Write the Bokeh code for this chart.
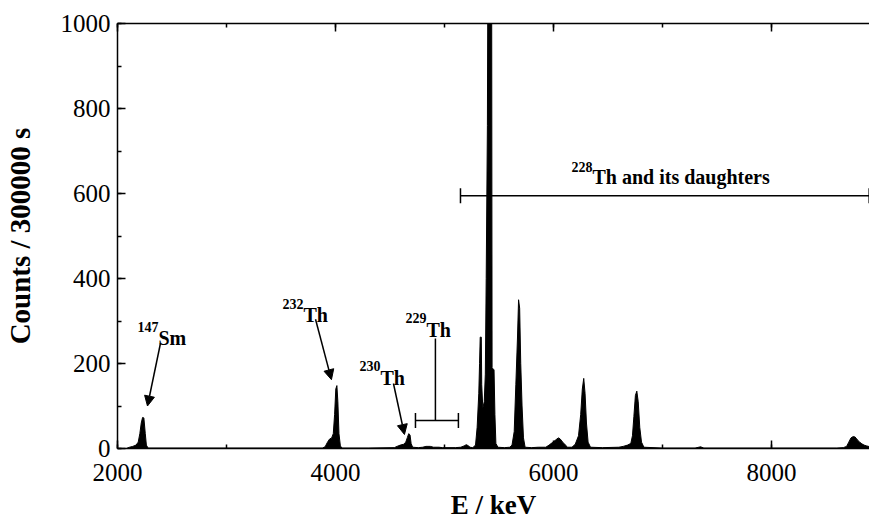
from bokeh.plotting import figure
from bokeh.models import (Range1d, LinearAxis, SingleIntervalTicker, Arrow,
                          NormalHead, TeeHead, Label, CustomJSTickFormatter,
                          ColumnDataSource)
from bokeh.embed import file_html
from bokeh.resources import INLINE

# ---------------- data ----------------
# alpha spectrum: energy (keV) and counts per 300000 s, region by region
sm147_E = [2000, 2080, 2110, 2140, 2170, 2190, 2205, 2218, 2230, 2242, 2255, 2265, 2280]
sm147_C = [0, 0, 3, 5, 8, 15, 35, 60, 73, 72, 35, 8, 1]

gap1_E = [2500, 3000, 3500, 3880]
gap1_C = [1, 1, 1, 1]

th232_E = [3905, 3925, 3945, 3965, 3980, 3992, 4003, 4013, 4022, 4032, 4045, 4060]
th232_C = [4, 14, 22, 25, 35, 80, 140, 148, 110, 35, 6, 1]

th230_E = [4300, 4540, 4565, 4595, 4625, 4645, 4660, 4672, 4684, 4694, 4708]
th230_C = [1, 2, 5, 8, 10, 15, 26, 35, 32, 12, 3]

th229_E = [4760, 4800, 4830, 4870, 4900, 4950, 4980, 5100, 5150, 5180, 5200, 5215, 5235]
th229_C = [2, 3, 5, 5, 3, 3, 2, 2, 3, 6, 9, 7, 3]

th228_E = [5260, 5285, 5300, 5315, 5322, 5328, 5338, 5342, 5352, 5365, 5375,
           5383, 5394, 5402, 5432, 5437, 5455, 5463, 5472, 5490]
th228_C = [2, 8, 50, 130, 200, 262, 262, 150, 95, 110, 175,
           400, 760, 1400, 1400, 190, 185, 80, 12, 3]

ra224_E = [5550, 5600, 5620, 5640, 5655, 5670, 5680, 5690, 5700, 5712, 5725, 5740]
ra224_C = [2, 3, 8, 40, 150, 260, 350, 330, 200, 100, 25, 3]

bi212_E = [5800, 5860, 5930, 5960, 5990, 6020, 6045, 6060, 6085, 6110, 6130]
bi212_C = [2, 3, 3, 8, 14, 20, 25, 23, 15, 8, 3]

rn220_E = [6170, 6200, 6230, 6250, 6265, 6278, 6290, 6303, 6318, 6340]
rn220_C = [3, 10, 30, 80, 140, 165, 130, 60, 15, 3]

po216_E = [6450, 6600, 6640, 6680, 6710, 6725, 6738, 6752, 6765, 6778, 6792, 6808, 6830]
po216_C = [2, 3, 5, 8, 12, 30, 75, 125, 135, 110, 50, 15, 3]

gap2_E = [7000, 7300, 7350, 7380, 8000, 8600]
gap2_C = [1, 1, 4, 1, 1, 1]

po212_E = [8660, 8690, 8710, 8730, 8750, 8768, 8790, 8810, 8830, 8850, 8875, 8905]
po212_C = [2, 5, 15, 25, 28, 27, 20, 15, 11, 8, 6, 4]

energy = (sm147_E + gap1_E + th232_E + th230_E + th229_E + th228_E + ra224_E
          + bi212_E + rn220_E + po216_E + gap2_E + po212_E)
counts = (sm147_C + gap1_C + th232_C + th230_C + th229_C + th228_C + ra224_C
          + bi212_C + rn220_C + po216_C + gap2_C + po212_C)

x_ticks_major = 2000
y_ticks_major = 200

# ---------------- figure ----------------
FONT = "Liberation Serif"

p = figure(frame_width=752, frame_height=425,
           x_range=Range1d(2000, 8900), y_range=Range1d(0, 1000),
           output_backend="svg", toolbar_location=None,
           min_border_left=115, min_border_top=23,
           min_border_right=1, min_border_bottom=79)
p.outline_line_color = None
p.grid.visible = False
p.background_fill_color = "white"
p.border_fill_color = "white"

src = ColumnDataSource(dict(x=energy, y=counts))
p.varea(x="x", y1=0, y2="y", source=src, fill_color="black")
p.line(x="x", y="y", source=src, line_color="black", line_width=1)


def style_axis(ax):
    ax.axis_line_width = 1.5
    ax.axis_line_color = "black"
    ax.major_tick_in = 8
    ax.major_tick_out = 0
    ax.minor_tick_in = 4
    ax.minor_tick_out = 0
    ax.major_tick_line_width = 1.5
    ax.minor_tick_line_width = 1.5
    ax.major_label_text_font = FONT
    ax.major_label_text_font_size = "25px"
    ax.major_label_text_color = "black"


xa = p.xaxis[0]
xa.ticker = SingleIntervalTicker(interval=x_ticks_major, num_minor_ticks=2)
style_axis(xa)
xa.major_label_standoff = 15
xa.axis_label = "E / keV"
xa.axis_label_text_font = FONT
xa.axis_label_text_font_style = "bold"
xa.axis_label_text_font_size = "27px"
xa.axis_label_text_color = "black"
xa.axis_label_standoff = 6

ya = p.yaxis[0]
ya.ticker = SingleIntervalTicker(interval=y_ticks_major, num_minor_ticks=2)
style_axis(ya)
ya.major_label_standoff = 7
ya.axis_label = "Counts / 300000 s"
ya.axis_label_text_font = FONT
ya.axis_label_text_font_style = "bold"
ya.axis_label_text_font_size = "29px"
ya.axis_label_text_color = "black"
ya.axis_label_standoff = 22

top = LinearAxis(ticker=SingleIntervalTicker(interval=x_ticks_major, num_minor_ticks=2),
                 formatter=CustomJSTickFormatter(code="return ''"))
style_axis(top)
p.add_layout(top, "above")

# ---------------- annotations ----------------
main_kw = dict(text_font=FONT, text_font_size="20px", text_font_style="bold",
               text_color="black", text_baseline="alphabetic")
sup_kw = dict(text_font=FONT, text_font_size="14px", text_font_style="bold",
              text_color="black", text_baseline="alphabetic")


def nuclide(x, y, mass, sym, dy=26):
    p.add_layout(Label(x=x, y=y + dy, text=mass, text_align="right", **sup_kw))
    p.add_layout(Label(x=x, y=y, text=sym, text_align="left", **main_kw))


nuclide(2376, 259, "147", "Sm")
nuclide(3706, 313, "232", "Th")
nuclide(4413, 167, "230", "Th")
nuclide(4835, 280, "229", "Th")
nuclide(6358, 640, "228", "Th and its daughters", dy=22)


def arrow(x0, y0, x1, y1):
    p.add_layout(Arrow(end=NormalHead(size=10, fill_color="black", line_color="black"),
                       x_start=x0, y_start=y0, x_end=x1, y_end=y1,
                       line_width=1.5, line_color="black"))


arrow(2394, 247, 2275, 100)
arrow(3817, 304, 3963, 162)
arrow(4532, 153, 4633, 33)

# 229Th: stem and bracket
p.add_layout(Arrow(end=None, start=None, x_start=4917, y_start=259, x_end=4917, y_end=66,
                   line_width=1.5, line_color="black"))
p.add_layout(Arrow(start=TeeHead(size=15, line_width=1.5), end=TeeHead(size=15, line_width=1.5),
                   x_start=4734, y_start=66, x_end=5128, y_end=66,
                   line_width=1.5, line_color="black"))

# 228Th chain bracket
p.add_layout(Arrow(start=TeeHead(size=15, line_width=1.5), end=TeeHead(size=15, line_width=1.5),
                   x_start=5147, y_start=595, x_end=8897, y_end=595,
                   line_width=1.5, line_color="black"))

open("out.html", "w").write(file_html(p, INLINE))
